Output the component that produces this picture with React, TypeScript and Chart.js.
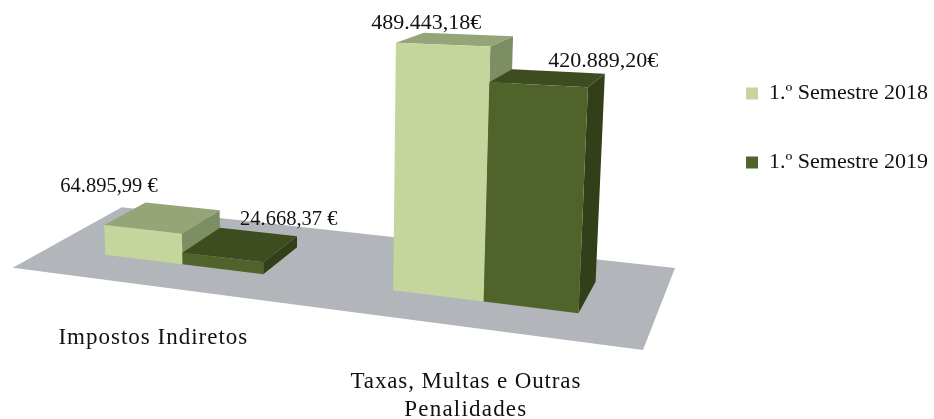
import React, { useEffect, useRef } from "react";
import { Chart, registerables } from "chart.js";

Chart.register(...registerables);

const categories: (string | string[])[] = ["Impostos Indiretos", ["Taxas, Multas e Outras", "Penalidades"]];
const seriesNames = ["1.º Semestre 2018", "1.º Semestre 2019"];
const values2018 = [64895.99, 489443.18];
const values2019 = [24668.37, 420889.2];
const valueLabels2018 = ["64.895,99 €", "489.443,18€"];
const valueLabels2019 = ["24.668,37 €", "420.889,20€"];

const FONT = '"Liberation Serif"';
const INK = "#111111";
// floor projection: unit square -> page pixels
const H = { a: 531.4, b: 127.02, c: 12.7, d: 28.47, e: -29.71, f: 267.7, g: -0.15381, h: 0.14806 };
const project = (u: number, v: number) => {
  const w = H.g * u + H.h * v + 1;
  return { x: (H.a * u + H.b * v + H.c) / w, y: (H.d * u + H.e * v + H.f) / w };
};
const V0 = 0.3;
const V1 = 0.7;
const VANISH = { x: 327, y: 6322 };
const HORIZON = -85;
const REF_Y = 291;

const palette = [
  { front: "#c4d69b", top: "#95a577", side: "#7e8e64" },
  { front: "#50632a", top: "#3e4d20", side: "#333f19" },
];
const labelOffsets = [
  [
    { dx: -54, dy: -32 },
    { dx: -29.5, dy: -17 },
  ],
  [
    { dx: 48, dy: -26 },
    { dx: 55, dy: -18 },
  ],
];
const labelFontSizes = [20.5, 22];
const catOffsets = [
  { dx: 2, dy: 51, spacing: ["1px"] },
  { dx: 1, dy: 54, spacing: ["0.86px", "1.2px"] },
];
const CAT_LINE = 28;

const lift = (p: { x: number; y: number }, hRef: number) => {
  const h = (hRef * (p.y - HORIZON)) / (REF_Y - HORIZON);
  return { x: p.x - (h * (VANISH.x - p.x)) / (VANISH.y - p.y), y: p.y - h };
};

const poly = (ctx: CanvasRenderingContext2D, pts: { x: number; y: number }[], fill: string) => {
  ctx.beginPath();
  pts.forEach((p, i) => (i ? ctx.lineTo(p.x, p.y) : ctx.moveTo(p.x, p.y)));
  ctx.closePath();
  ctx.fillStyle = fill;
  ctx.fill();
};

const bars3d = {
  id: "bars3d",
  beforeDatasetsDraw(chart: any) {
    const { ctx, chartArea } = chart;
    ctx.save();
    poly(ctx, [project(0, 0), project(1, 0), project(1, 1), project(0, 1)], "#b2b6ba");
    const toU = (x: number) => (x - chartArea.left) / (chartArea.right - chartArea.left);
    for (let c = 0; c < categories.length; c++) {
      for (let s = 0; s < chart.data.datasets.length; s++) {
        const bar = chart.getDatasetMeta(s).data[c];
        const u0 = toU(bar.x - bar.width / 2);
        const u1 = toU(bar.x + bar.width / 2);
        const hRef = bar.base - bar.y;
        const fl = project(u0, V0);
        const fr = project(u1, V0);
        const bl = project(u0, V1);
        const br = project(u1, V1);
        const [tfl, tfr, tbl, tbr] = [fl, fr, bl, br].map((p) => lift(p, hRef));
        const col = palette[s];
        poly(ctx, [fr, br, tbr, tfr], col.side);
        poly(ctx, [tfl, tfr, tbr, tbl], col.top);
        poly(ctx, [fl, fr, tfr, tfl], col.front);
      }
    }
    ctx.restore();
    return false;
  },
  afterDraw(chart: any) {
    const { ctx, chartArea } = chart;
    ctx.save();
    ctx.fillStyle = INK;
    ctx.textAlign = "center";
    ctx.textBaseline = "alphabetic";
    const toU = (x: number) => (x - chartArea.left) / (chartArea.right - chartArea.left);
    const texts = [valueLabels2018, valueLabels2019];
    for (let c = 0; c < categories.length; c++) {
      ctx.font = `${labelFontSizes[c]}px ${FONT}`;
      for (let s = 0; s < 2; s++) {
        const bar = chart.getDatasetMeta(s).data[c];
        const mid = project(toU(bar.x), (V0 + V1) / 2);
        const top = lift(mid, bar.base - bar.y);
        const o = labelOffsets[s][c];
        ctx.fillText(texts[s][c], top.x + o.dx, top.y + o.dy + 7);
      }
    }
    ctx.font = `23px ${FONT}`;
    const xs = chart.scales.x;
    categories.forEach((label, i) => {
      const edge = project(toU(xs.getPixelForTick(i)), 0);
      const lines = Array.isArray(label) ? label : [label];
      lines.forEach((line, k) => {
        (ctx as any).letterSpacing = catOffsets[i].spacing[k];
        ctx.fillText(line, edge.x + catOffsets[i].dx, edge.y + catOffsets[i].dy + 7 + k * CAT_LINE);
      });
    });
    ctx.restore();
  },
};

export default function App() {
  const ref = useRef<HTMLCanvasElement>(null);
  useEffect(() => {
    document.body.style.margin = "0";
    const chart = new Chart(ref.current!, {
      type: "bar",
      data: {
        labels: categories as any,
        datasets: [
          { label: seriesNames[0], data: values2018, backgroundColor: palette[0].front },
          { label: seriesNames[1], data: values2019, backgroundColor: palette[1].front },
        ],
      },
      plugins: [bars3d as any],
      options: {
        animation: false,
        responsive: false,
        categoryPercentage: 0.568,
        barPercentage: 1,
        layout: { padding: { left: 0, top: 0, bottom: 163, right: -4 } },
        scales: {
          x: { display: false },
          y: { display: false, min: 0, max: 505000 },
        },
        plugins: {
          tooltip: { enabled: false },
          legend: {
            position: "right",
            labels: {
              boxWidth: 12,
              boxHeight: 12,
              padding: 47,
              color: INK,
              font: { family: FONT, size: 22 },
            },
          },
        },
      } as any,
    });
    return () => chart.destroy();
  }, []);
  return <canvas ref={ref} width={934} height={419} style={{ display: "block", filter: "blur(0.4px)" }} />;
}
